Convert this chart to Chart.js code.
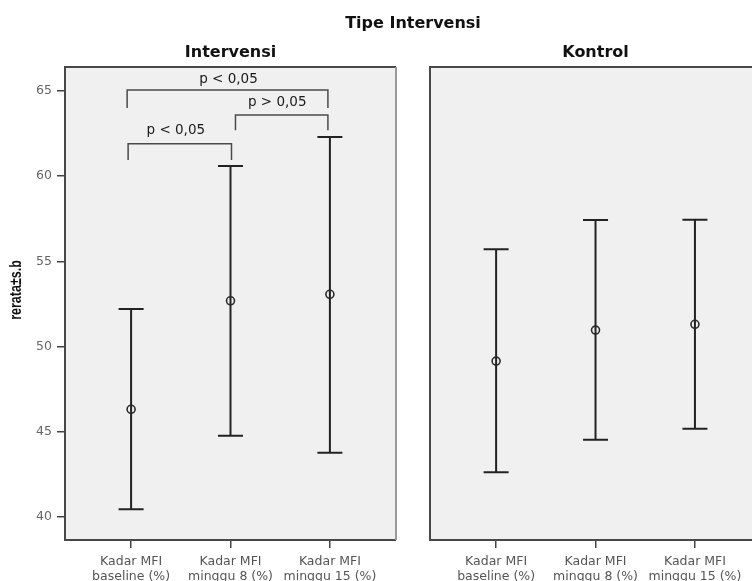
<!DOCTYPE html>
<html><head><meta charset="utf-8">
<script src="https://cdn.jsdelivr.net/npm/chart.js@4/dist/chart.umd.min.js"></script>
<style>
html,body{margin:0;padding:0;background:#fff;overflow:hidden;width:752px;height:581px}
#wrap{position:relative;width:752px;height:581px}
canvas{position:absolute;left:0;top:0}
</style></head>
<body>
<div id="wrap"><canvas id="c1" width="752" height="581"></canvas><canvas id="c2" width="752" height="581"></canvas></div>
<script>
// ---- data ----
const superTitle = 'Tipe Intervensi';
const panelTitles = ['Intervensi', 'Kontrol'];
const categories = [['Kadar MFI','baseline (%)'], ['Kadar MFI','minggu 8 (%)'], ['Kadar MFI','minggu 15 (%)']];
const yTitle = 'rerata\u00b1s.b';
const yTicks = [40, 45, 50, 55, 60, 65];
const intervMean  = [46.32, 52.69, 53.07];
const intervLower = [40.45, 44.77, 43.77];
const intervUpper = [52.21, 60.60, 62.30];
const kontrolMean  = [49.15, 50.97, 51.31];
const kontrolLower = [42.62, 44.54, 45.18];
const kontrolUpper = [55.71, 57.43, 57.45];
// significance brackets (panel Intervensi)
const bracketFrom   = [-0.04, 1.05, -0.03];
const bracketTo     = [1.98, 1.98, 1.01];
const bracketTop    = [65.06, 63.60, 61.90];
const bracketFoot   = [64.00, 62.70, 60.95];
const bracketLabels = ['p < 0,05', 'p > 0,05', 'p < 0,05'];
const bracketLabelX = [0.98, 1.47, 0.45];
const bracketLabelY = [65.65, 64.30, 62.71];

Chart.defaults.font.family = '"DejaVu Sans", sans-serif';
Chart.defaults.animation = false;

const Y_MIN = 38.65, Y_MAX = 66.41;

function makePlugin(panelIdx, lower, upper, opts) {
  return {
    id: 'panel' + panelIdx,
    beforeDraw(chart) {
      const {ctx, chartArea: a} = chart;
      ctx.save();
      ctx.fillStyle = '#f0f0f0';
      ctx.fillRect(a.left, a.top, a.right - a.left, a.bottom - a.top);
      ctx.restore();
    },
    beforeDatasetsDraw(chart) {
      const {ctx} = chart;
      const xs = chart.scales.x, ys = chart.scales.y;
      ctx.save();
      ctx.strokeStyle = '#222';
      ctx.lineWidth = 2;
      for (let i = 0; i < lower.length; i++) {
        const x = xs.getPixelForValue(i);
        const y1 = ys.getPixelForValue(lower[i]);
        const y2 = ys.getPixelForValue(upper[i]);
        ctx.beginPath();
        ctx.moveTo(x, y1); ctx.lineTo(x, y2);
        ctx.moveTo(x - 12.5, y1); ctx.lineTo(x + 12.5, y1);
        ctx.moveTo(x - 12.5, y2); ctx.lineTo(x + 12.5, y2);
        ctx.stroke();
      }
      ctx.restore();
    },
    afterDraw(chart) {
      const {ctx, chartArea: a} = chart;
      const xs = chart.scales.x, ys = chart.scales.y;
      ctx.save();
      // frame
      ctx.lineWidth = 2;
      ctx.strokeStyle = '#484848';
      ctx.beginPath();
      ctx.moveTo(a.right + (opts.drawRight ? 0 : 2), a.top);
      ctx.lineTo(a.left, a.top);
      ctx.lineTo(a.left, a.bottom);
      ctx.lineTo(a.right + (opts.drawRight ? 0 : 2), a.bottom);
      ctx.stroke();
      if (opts.drawRight) {
        ctx.strokeStyle = '#9a9a9a';
        ctx.beginPath();
        ctx.moveTo(a.right, a.top);
        ctx.lineTo(a.right, a.bottom);
        ctx.stroke();
      }
      // panel title
      ctx.fillStyle = '#111';
      ctx.font = 'bold 16px "DejaVu Sans"';
      ctx.textAlign = 'center';
      ctx.textBaseline = 'middle';
      ctx.fillText(panelTitles[panelIdx], xs.getPixelForValue(1), 53);
      if (opts.main) {
        ctx.fillText(superTitle, 413, 24);
        // y title
        ctx.save();
        ctx.translate(17, 290);
        ctx.rotate(-Math.PI / 2);
        ctx.scale(1, 1.3);
        ctx.font = 'bold 12.5px "Liberation Sans"';
        ctx.fillStyle = '#111';
        ctx.fillText(yTitle, 0, 0);
        ctx.restore();
        // brackets
        ctx.strokeStyle = '#4a4a4a';
        ctx.lineWidth = 1.5;
        for (let i = 0; i < bracketFrom.length; i++) {
          const x1 = xs.getPixelForValue(bracketFrom[i]);
          const x2 = xs.getPixelForValue(bracketTo[i]);
          const yt = ys.getPixelForValue(bracketTop[i]);
          const yf = ys.getPixelForValue(bracketFoot[i]);
          ctx.beginPath();
          ctx.moveTo(x1, yf); ctx.lineTo(x1, yt); ctx.lineTo(x2, yt); ctx.lineTo(x2, yf);
          ctx.stroke();
        }
        ctx.fillStyle = '#1a1a1a';
        ctx.font = '13.5px "DejaVu Sans"';
        for (let i = 0; i < bracketLabels.length; i++) {
          ctx.fillText(bracketLabels[i], xs.getPixelForValue(bracketLabelX[i]), ys.getPixelForValue(bracketLabelY[i]));
        }
      }
      ctx.restore();
    }
  };
}

function makeChart(id, panelIdx, means, lower, upper, main) {
  const xMin = -0.665;
  const xMax = main ? 2.665 : 2.574;
  return new Chart(document.getElementById(id), {
    type: 'scatter',
    data: {
      datasets: [{
        data: means.map((v, i) => ({x: i, y: v})),
        pointStyle: 'circle',
        pointRadius: 4,
        pointHoverRadius: 4,
        pointBorderWidth: 1.6,
        borderColor: '#2a2a2a',
        backgroundColor: 'rgba(0,0,0,0)',
        showLine: false
      }]
    },
    options: {
      responsive: false,
      devicePixelRatio: 1,
      layout: {autoPadding: false, padding: main ? {left: 0, right: 356, top: 67, bottom: 0} : {left: 430, right: 0, top: 67, bottom: 0}},
      plugins: {legend: {display: false}, tooltip: {enabled: false}, title: {display: false}},
      scales: {
        x: {
          type: 'linear',
          min: xMin, max: xMax,
          afterBuildTicks: s => { s.ticks = categories.map((c, i) => ({value: i})); },
          afterFit: s => { s.height = 41; s.paddingLeft = 0; s.paddingRight = 0; },
          border: {display: false},
          grid: {display: true, drawOnChartArea: false, drawTicks: true, tickLength: 8, color: '#444', lineWidth: 1.5},
          ticks: {
            autoSkip: false, maxRotation: 0, padding: 6.8,
            color: '#555',
            font: {size: 12.5, lineHeight: 1.15},
            callback: v => categories[v]
          }
        },
        y: {
          type: 'linear',
          display: main,
          min: Y_MIN, max: Y_MAX,
          afterBuildTicks: s => { s.ticks = yTicks.map(v => ({value: v})); },
          afterFit: s => { s.width = main ? 65 : 0; s.paddingTop = 0; s.paddingBottom = 0; },
          border: {display: false},
          grid: {display: true, drawOnChartArea: false, drawTicks: true, tickLength: 8, color: '#444', lineWidth: 1.5},
          ticks: {padding: 5, color: '#666', font: {size: 12.5}}
        }
      }
    },
    plugins: [makePlugin(panelIdx, lower, upper, {main: main, drawRight: main})]
  });
}

makeChart('c1', 0, intervMean, intervLower, intervUpper, true);
makeChart('c2', 1, kontrolMean, kontrolLower, kontrolUpper, false);
</script>
</body></html>
